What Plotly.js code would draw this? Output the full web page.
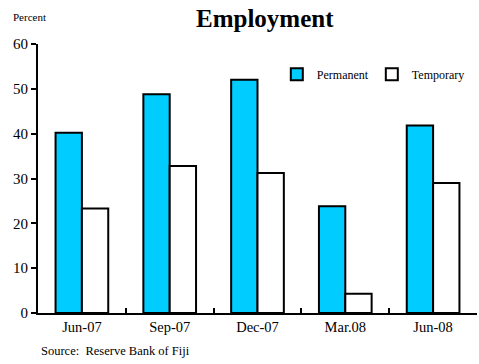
<!DOCTYPE html>
<html><head><meta charset="utf-8">
<script src="https://cdn.plot.ly/plotly-3.0.1.min.js"></script>
<style>html,body{margin:0;padding:0;background:#fff}#c{width:479px;height:364px}</style>
</head><body><div id="c"></div>
<script>
var categories = ["Jun-07", "Sep-07", "Dec-07", "Mar.08", "Jun-08"];
var permanent = [40.2, 48.8, 52.0, 23.8, 41.8];
var temporary = [23.3, 32.8, 31.2, 4.3, 29.0];
var seriesNames = ["Permanent", "Temporary"];
var yTicks = [0, 10, 20, 30, 40, 50, 60];

var serif = "Liberation Serif, Times New Roman, serif";
var data = [
  {type: "bar", name: seriesNames[0], x: categories, y: permanent,
   marker: {color: "#00CCFF", line: {color: "#000", width: 2}}},
  {type: "bar", name: seriesNames[1], x: categories, y: temporary,
   marker: {color: "#FFFFFF", line: {color: "#000", width: 2}}}
];
var layout = {
  width: 479, height: 364,
  margin: {l: 38, r: 2, t: 44, b: 51, autoexpand: false},
  paper_bgcolor: "#fff", plot_bgcolor: "#fff",
  barmode: "group", bargap: 0.4, bargroupgap: 0,
  font: {family: serif, color: "#000"},
  showlegend: true,
  legend: {orientation: "h", x: 0.544, y: 0.888, xanchor: "left", yanchor: "middle",
           font: {family: serif, size: 12, color: "#000"}, bgcolor: "rgba(0,0,0,0)",
           entrywidth: 50, entrywidthmode: "pixels", traceorder: "normal"},
  xaxis: {type: "category", showline: true, linecolor: "#000", linewidth: 2,
          ticks: "inside", tickson: "boundaries", ticklen: 5, tickwidth: 2, tickcolor: "#000",
          tickfont: {family: serif, size: 14.5, color: "#000"}, showgrid: false, zeroline: false,
          fixedrange: true},
  yaxis: {range: [0, 60], tickvals: yTicks, showline: true, linecolor: "#000", linewidth: 2,
          ticks: "outside", ticklen: 5, tickwidth: 2, tickcolor: "#000",
          tickfont: {family: serif, size: 15, color: "#000"}, showgrid: false, zeroline: false,
          fixedrange: true},
  annotations: [
    {text: "<b>Employment</b>", xref: "paper", yref: "paper", x: 0.517, y: 1, yshift: 26,
     xanchor: "center", yanchor: "middle", showarrow: false,
     font: {family: serif, size: 25, color: "#000"}},
    {text: "Percent", xref: "paper", yref: "paper", x: 0, xshift: -27, y: 1, yshift: 27,
     xanchor: "left", yanchor: "middle", showarrow: false,
     font: {family: serif, size: 11, color: "#000"}},
    {text: "Source:  Reserve Bank of Fiji", xref: "paper", yref: "paper", x: 0, xshift: 1, y: 0, yshift: -38,
     xanchor: "left", yanchor: "middle", showarrow: false,
     font: {family: serif, size: 12.5, color: "#000"}}
  ]
};
Plotly.newPlot("c", data, layout, {displayModeBar: false, staticPlot: true});
</script></body></html>
